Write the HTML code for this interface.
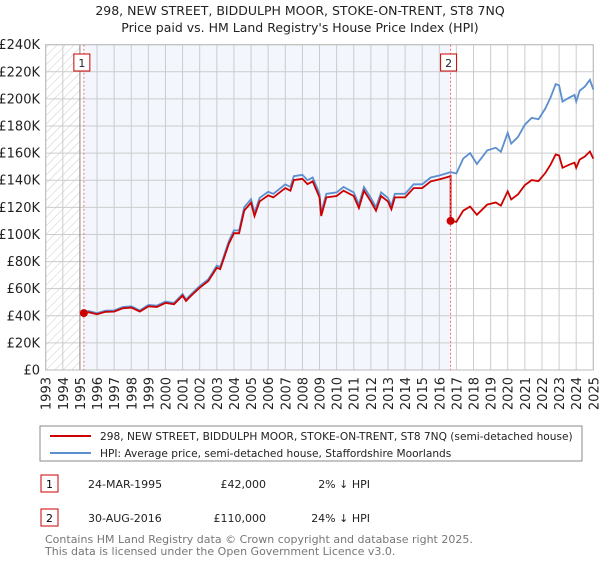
<!DOCTYPE html>
<html><head><meta charset="utf-8"><style>
body{margin:0;background:#fff;font-family:"DejaVu Sans","Liberation Sans",sans-serif;}
svg text{font-family:"DejaVu Sans","Liberation Sans",sans-serif;}
</style></head><body>
<svg id="chart" width="600" height="560" xmlns="http://www.w3.org/2000/svg">
<defs><pattern id="hatch" width="6" height="6" patternUnits="userSpaceOnUse" patternTransform="rotate(45)"><line x1="0" y1="0" x2="0" y2="6" stroke="#ccc" stroke-width="1"/></pattern></defs>
<text x="300" y="15" text-anchor="middle" font-size="12.5" fill="#222">298, NEW STREET, BIDDULPH MOOR, STOKE-ON-TRENT, ST8 7NQ</text>
<text x="300" y="32" text-anchor="middle" font-size="12.5" fill="#222">Price paid vs. HM Land Registry's House Price Index (HPI)</text>
<g id="plot"></g>
<rect x="40" y="426" width="542" height="35" fill="#fff" stroke="#888"/>
<line x1="50" y1="436" x2="91" y2="436" stroke="#cc0000" stroke-width="2"/>
<text x="100" y="440" font-size="10.6" fill="#222">298, NEW STREET, BIDDULPH MOOR, STOKE-ON-TRENT, ST8 7NQ (semi-detached house)</text>
<line x1="50" y1="453" x2="91" y2="453" stroke="#5b8fd0" stroke-width="2"/>
<text x="100" y="457" font-size="10.6" fill="#222">HPI: Average price, semi-detached house, Staffordshire Moorlands</text>
<g>
<rect x="41" y="475" width="17" height="17" fill="#fff" stroke="#cc0000"/><text x="49.5" y="488" text-anchor="middle" font-size="11">1</text>
<text x="88" y="488" font-size="11" fill="#222">24-MAR-1995</text>
<text x="266" y="488" text-anchor="end" font-size="11" fill="#222">£42,000</text>
<text x="370" y="488" text-anchor="end" font-size="11" fill="#222">2% ↓ HPI</text></g>
<g>
<rect x="41" y="509" width="17" height="17" fill="#fff" stroke="#cc0000"/><text x="49.5" y="522" text-anchor="middle" font-size="11">2</text>
<text x="88" y="522" font-size="11" fill="#222">30-AUG-2016</text>
<text x="266" y="522" text-anchor="end" font-size="11" fill="#222">£110,000</text>
<text x="370" y="522" text-anchor="end" font-size="11" fill="#222">24% ↓ HPI</text></g>
<text x="45" y="543" font-size="11" fill="#777">Contains HM Land Registry data © Crown copyright and database right 2025.</text>
<text x="45" y="555" font-size="11" fill="#777">This data is licensed under the Open Government Licence v3.0.</text>
</svg>
<script>
const hpiYears=[1995.2,1995.5,1996,1996.5,1997,1997.5,1998,1998.5,1999,1999.5,2000,2000.5,2001,2001.2,2001.5,2002,2002.5,2003,2003.2,2003.7,2004,2004.3,2004.6,2005,2005.2,2005.5,2006,2006.3,2007,2007.3,2007.5,2008,2008.3,2008.6,2009,2009.1,2009.4,2010,2010.4,2011,2011.3,2011.6,2012,2012.3,2012.6,2013,2013.2,2013.4,2014,2014.5,2015,2015.5,2016,2016.4,2016.66,2017,2017.4,2017.8,2018.2,2018.8,2019.3,2019.6,2020,2020.2,2020.6,2021,2021.4,2021.8,2022.2,2022.5,2022.8,2023,2023.2,2023.6,2023.9,2024,2024.2,2024.5,2024.8,2025];
const hpiValues=[42.8,43.5,42,43.8,44,46.5,47,44,48,47.5,50.5,49.5,56,52,56,62,67,77,76,95,103,103,120,126,116,127,131.5,130,137,135,143,144,140,142,130,116,130,131,135,131,122,135,127,120,131,127,121,130,130,137,137,142,143.5,145,146,145,156,160,152,162,164,161,175,167,172,181,186,185,193,201,211,210,198,201,203,198,206,209,214,207];
const saleYears=[1995.23,2016.66];
const salePrices=[42,110];
const yTicks=[0,20,40,60,80,100,120,140,160,180,200,220,240];
const xTicks=[1993,1994,1995,1996,1997,1998,1999,2000,2001,2002,2003,2004,2005,2006,2007,2008,2009,2010,2011,2012,2013,2014,2015,2016,2017,2018,2019,2020,2021,2022,2023,2024,2025];
const X0=45.7,X1=593.3,Y0=370,Y1=44.7;
const sx=y=>X0+(y-1993)/32*(X1-X0);
const sy=v=>Y0-v/240*(Y0-Y1);
const NS="http://www.w3.org/2000/svg";
const g=document.getElementById('plot');
function mk(t,a){const e=document.createElementNS(NS,t);for(const k in a)e.setAttribute(k,a[k]);g.appendChild(e);return e;}
let e=mk('rect',{x:sx(1995.23),y:Y1,width:sx(2016.66)-sx(1995.23),height:Y0-Y1,fill:'#f3f6fd'});


e=mk('rect',{x:X0,y:Y1,width:sx(1995)-X0,height:Y0-Y1,fill:'url(#hatch)'});


yTicks.forEach(v=>{
 e=mk('line',{x1:X0,x2:X1,y1:sy(v),y2:sy(v),stroke:'#ccc'});
 
 
 e=mk('text',{x:40,y:sy(v)+4.5,'text-anchor':'end','font-size':'13',fill:'#222'});
 e.textContent=v===0?'£0':'£'+v+'K';
 
 
});
xTicks.forEach(yr=>{
 e=mk('line',{x1:sx(yr),x2:sx(yr),y1:Y1,y2:Y0,stroke:'#ccc'});
 
 
 e=mk('text',{x:0,y:0,'text-anchor':'end','font-size':'13',fill:'#222',transform:`translate(${sx(yr)+5},${Y0+7}) rotate(-90)`});
 e.textContent=yr;
 
 
});
e=mk('line',{x1:sx(1995),x2:sx(1995),y1:Y1,y2:Y0,stroke:'#888'});


e=mk('rect',{x:X0,y:Y1,width:X1-X0,height:Y0-Y1,fill:'none',stroke:'#bbb'});


function hpiAt(y){for(let i=1;i<hpiYears.length;i++){if(y<=hpiYears[i]){const t=(y-hpiYears[i-1])/(hpiYears[i]-hpiYears[i-1]);return hpiValues[i-1]+t*(hpiValues[i]-hpiValues[i-1]);}}return hpiValues[hpiValues.length-1];}
let redPts=[];
hpiYears.forEach((yr,i)=>{
 let k=saleYears.length-1;while(k>0&&yr<saleYears[k])k--;
 if(k===1&&redPts.length&&yr>=saleYears[1]&&!redPts.done){redPts.push([saleYears[1],hpiAt(saleYears[1])*salePrices[0]/hpiAt(saleYears[0])]);redPts.push([saleYears[1],salePrices[1]]);redPts.done=true;}
 const r=salePrices[k]/hpiAt(saleYears[k]);
 redPts.push([yr,hpiValues[i]*r]);
});
e=mk('path',{d:hpiYears.map((yr,i)=>(i?'L':'M')+sx(yr).toFixed(1)+','+sy(hpiValues[i]).toFixed(1)).join(''),fill:'none',stroke:'#5b8fd0','stroke-width':'1.8'});


e=mk('path',{d:redPts.map((p,i)=>(i?'L':'M')+sx(p[0]).toFixed(1)+','+sy(p[1]).toFixed(1)).join(''),fill:'none',stroke:'#cc0000','stroke-width':'1.8'});


saleYears.forEach((yr,i)=>{
 e=mk('line',{x1:sx(yr),x2:sx(yr),y1:Y1,y2:Y0,stroke:'#f07070','stroke-dasharray':'2,2'});
 
 
 e=mk('circle',{cx:sx(yr),cy:sy(salePrices[i]),r:4,fill:'#cc0000'});
 
 
 e=mk('rect',{x:sx(yr)-10,y:54,width:16,height:17,fill:'#fff',stroke:'#cc0000'});
 
 
 e=mk('text',{x:sx(yr)-2,y:67,'text-anchor':'middle','font-size':'11',fill:'#222'});
 e.textContent=String(i+1);
 
 
});
</script>
</body></html>
